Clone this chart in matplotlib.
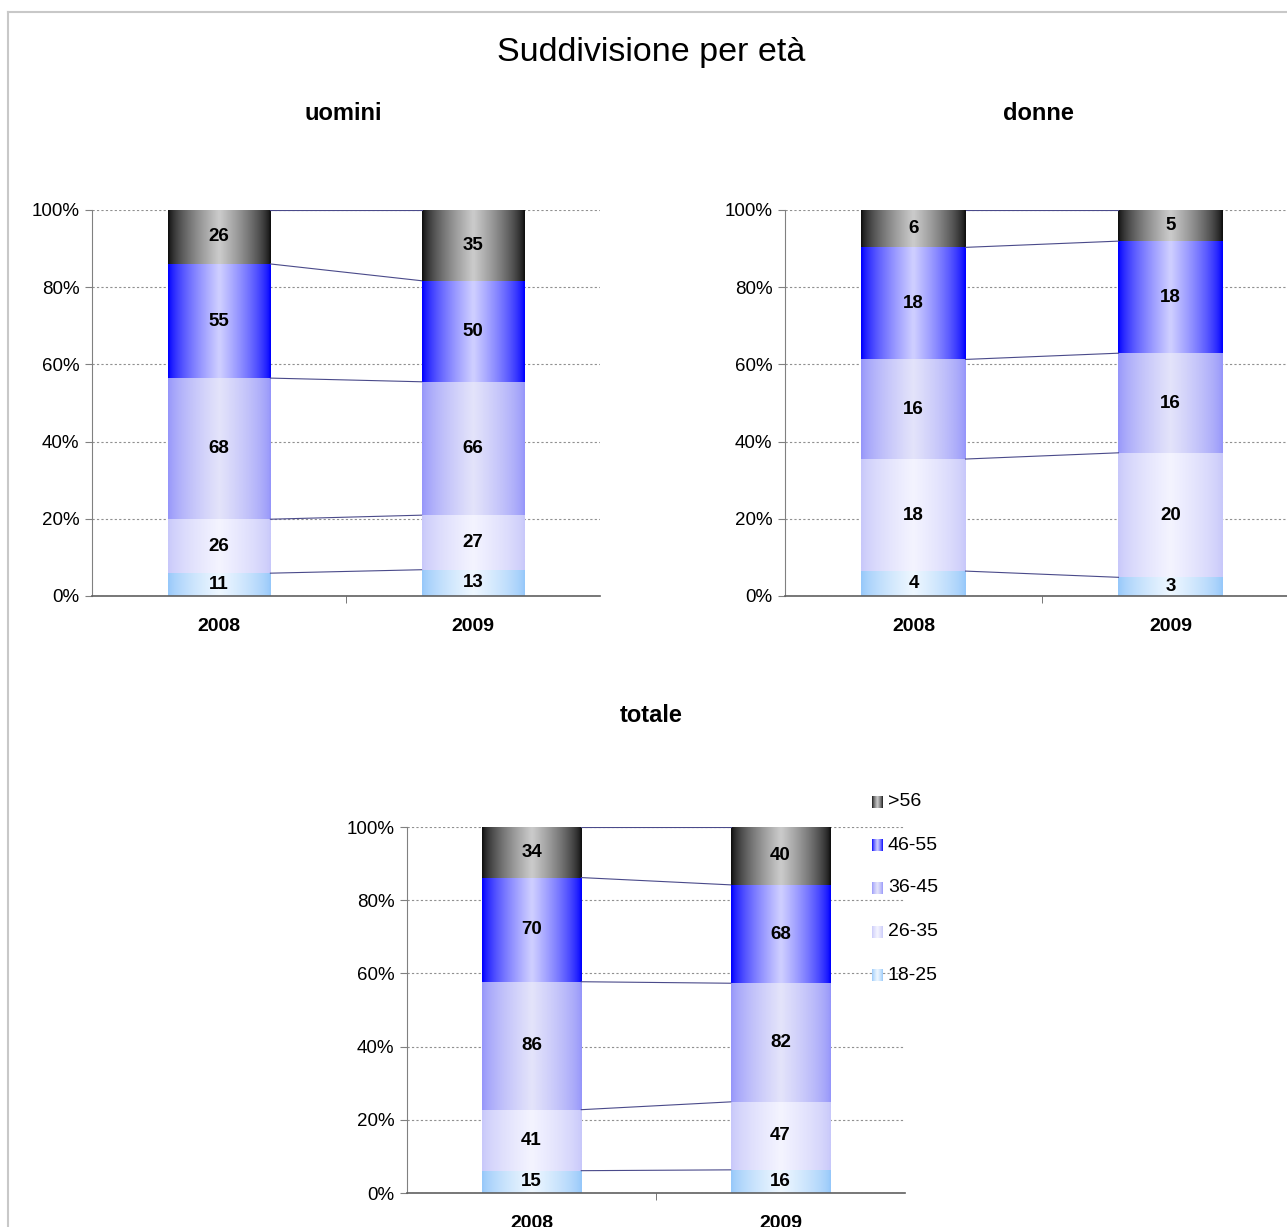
import numpy as np
import matplotlib
matplotlib.use("Agg")
import matplotlib.pyplot as plt
from matplotlib.lines import Line2D
from matplotlib.colors import to_rgb

plt.rcParams['font.family'] = ['Liberation Sans', 'DejaVu Sans']

# dati
anni = ["2008", "2009"]
fasce = ["18-25", "26-35", "36-45", "46-55", ">56"]

uomini = {"2008": [11, 26, 68, 55, 26], "2009": [13, 27, 66, 50, 35]}
donne = {"2008": [4, 18, 16, 18, 6], "2009": [3, 20, 16, 18, 5]}
totale = {"2008": [15, 41, 86, 70, 34], "2009": [16, 47, 82, 68, 40]}

# colori gradiente (bordo, centro) per fascia
bordi = ["#96c8fa", "#c8c8fa", "#9696fa", "#0000ff", "#101010"]
centri = ["#eef7ff", "#f4f4ff", "#e4e4fa", "#d0d0ff", "#cccccc"]


def gradiente(bordo, centro, n=64):
    t = np.linspace(0, 1, n)
    w = (1 - np.abs(2 * t - 1)) ** 0.7
    b = np.array(to_rgb(bordo))
    c = np.array(to_rgb(centro))
    img = b[None, :] * (1 - w[:, None]) + c[None, :] * w[:, None]
    return img[None, :, :]


def grafico(ax, dati, larg=0.405):
    x = np.arange(len(anni))
    perc = []
    for a in anni:
        v = np.array(dati[a], dtype=float)
        perc.append(v / v.sum())
    perc = np.array(perc)
    base = np.zeros(len(anni))
    for i, f in enumerate(fasce):
        bars = ax.bar(x, perc[:, i], larg, bottom=base, color='none',
                      edgecolor='none', zorder=2)
        for j, r in enumerate(bars):
            x0, y0 = r.get_x(), r.get_y()
            ax.imshow(gradiente(bordi[i], centri[i]), aspect='auto',
                      extent=(x0, x0 + r.get_width(), y0, y0 + r.get_height()),
                      interpolation='bilinear', zorder=2)
            ax.text(x[j], y0 + r.get_height() / 2, str(dati[anni[j]][i]),
                    ha='center', va='center', fontsize=13.5, fontweight='bold',
                    zorder=4)
        base = base + perc[:, i]
        # linee di serie
        ax.plot([x[0] + larg / 2, x[1] - larg / 2], [base[0], base[1]],
                color='#4a4a8a', lw=0.8, zorder=3)
    ax.set_xlim(-0.5, 1.5)
    ax.set_ylim(0, 1)
    ax.set_yticks(np.arange(0, 1.01, 0.2))
    ax.set_yticklabels([f"{int(round(v * 100))}%" for v in np.arange(0, 1.01, 0.2)],
                       fontsize=13.5)
    ax.set_xticks(x)
    ax.set_xticklabels(anni, fontsize=14, fontweight='bold')
    ax.set_xticks([0.5], minor=True)
    ax.tick_params(axis='x', which='major', length=0, pad=16)
    ax.tick_params(axis='x', which='minor', length=5, color='#606060')
    ax.tick_params(axis='y', length=5, color='#808080', pad=4)
    ax.grid(axis='y', linestyle=(0, (2, 2)), color='#909090', lw=0.8, zorder=1)
    ax.set_axisbelow(True)
    for s in ['top', 'right']:
        ax.spines[s].set_visible(False)
    ax.spines['left'].set_color('#808080')
    ax.spines['bottom'].set_color('#606060')
    ax.spines['bottom'].set_linewidth(1.2)


fig = plt.figure(figsize=(12.87, 12.27), dpi=100)
W, H = 1287, 1227


def box(l, r, t, b):
    return [l / W, 1 - b / H, (r - l) / W, (b - t) / H]


ax1 = fig.add_axes(box(92, 600, 210, 596))
ax2 = fig.add_axes(box(785, 1299, 210, 596))
ax3 = fig.add_axes(box(407, 905, 827, 1193))

grafico(ax1, uomini)
grafico(ax2, donne)
grafico(ax3, totale, larg=0.40)

# titoli
fig.text(343 / W, 1 - 113 / H, "uomini", ha='center', va='center',
         fontsize=17, fontweight='bold')
fig.text(1038 / W, 1 - 113 / H, "donne", ha='center', va='center',
         fontsize=17, fontweight='bold')
fig.text(651 / W, 1 - 715 / H, "totale", ha='center', va='center',
         fontsize=17, fontweight='bold')
fig.text(651 / W, 1 - 52 / H, "Suddivisione per età", ha='center',
         va='center', fontsize=24.5)

# legenda manuale
ys = [802, 845, 888, 932, 975]
for k, i in enumerate(range(len(fasce) - 1, -1, -1)):
    lax = fig.add_axes(box(872, 883, ys[k] - 6, ys[k] + 6))
    lax.imshow(gradiente(bordi[i], centri[i]), aspect='auto',
               interpolation='bilinear')
    lax.axis('off')
    fig.text(888 / W, 1 - ys[k] / H, fasce[i], ha='left', va='center',
             fontsize=14)

# cornice
fig.add_artist(Line2D([8 / W, 1], [1 - 12 / H, 1 - 12 / H], color='#c8c8c8',
                      lw=1.5, transform=fig.transFigure))
fig.add_artist(Line2D([8 / W, 8 / W], [0, 1 - 12 / H], color='#c8c8c8',
                      lw=1.5, transform=fig.transFigure))

fig.savefig("out.png", dpi=100)
